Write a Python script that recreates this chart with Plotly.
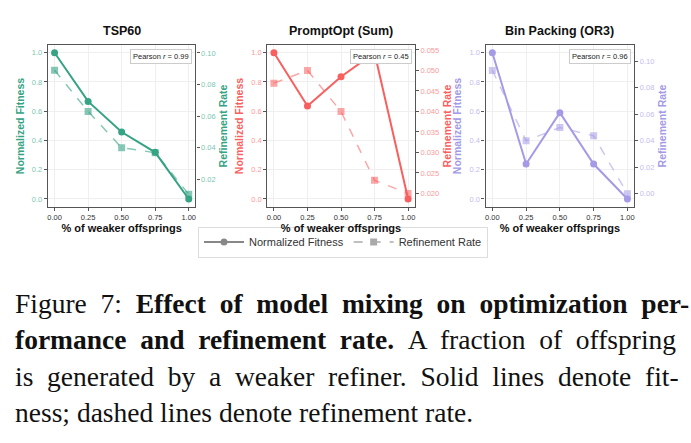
import plotly.graph_objects as go

x_vals = [0.0, 0.25, 0.5, 0.75, 1.0]
panel_titles = ["TSP60", "PromptOpt (Sum)", "Bin Packing (OR3)"]
fitness = [
    [1.0, 0.667, 0.458, 0.319, 0.0],
    [1.0, 0.636, 0.836, 1.0, 0.0],
    [1.0, 0.239, 0.590, 0.239, 0.0],
]
refinement = [
    [0.089, 0.063, 0.040, 0.0369, 0.0105],
    [0.0469, 0.050, 0.040, 0.0232, 0.020],
    [0.0932, 0.040, 0.050, 0.0437, 0.0],
]
pearson = ["0.99", "0.45", "0.96"]
x_ticks = [0.0, 0.25, 0.5, 0.75, 1.0]
left_ticks = [0.0, 0.2, 0.4, 0.6, 0.8, 1.0]
right_ticks = [
    [0.02, 0.04, 0.06, 0.08, 0.10],
    [0.020, 0.025, 0.030, 0.035, 0.040, 0.045, 0.050, 0.055],
    [0.00, 0.02, 0.04, 0.06, 0.08, 0.10],
]
right_fmt = [".2f", ".3f", ".2f"]
right_ranges = [[0.0025, 0.105], [0.0167, 0.0562], [-0.0101, 0.1124]]
main_colors = ["#35a384", "#f95f5f", "#a49ae6"]
light_colors = ["rgba(53,163,132,0.6)", "rgba(249,95,95,0.55)", "rgba(164,154,230,0.55)"]
tick_colors = ["#7ec6b1", "#fb9a9a", "#c3bdef"]

caption_lines = [
    "Figure 7: <b>Effect of model mixing on optimization per-</b>",
    "<b>formance and refinement rate.</b> A fraction of offspring",
    "is generated by a weaker refiner. Solid lines denote fit-",
    "ness; dashed lines denote refinement rate.",
]
caption_justify = [True, True, True, False]

W, H = 691, 443
def px(x):
    return x / W
def py(y):
    return 1 - y / H

x_domains = [[px(47), px(195)], [px(267), px(415)], [px(486), px(635)]]
y_domain = [py(207), py(45)]

fig = go.Figure()
layout = dict(
    width=W, height=H, margin=dict(l=0, r=0, t=0, b=0),
    paper_bgcolor="white", plot_bgcolor="white",
    font=dict(family="Liberation Sans, Arial", color="#222"),
    showlegend=True,
)
annotations = []
for i in range(3):
    n = i + 1
    xa = "x" if n == 1 else f"x{n}"
    ya_l = f"y{2*i+1}" if i > 0 else "y"
    ya_r = f"y{2*i+2}"
    xkey = "xaxis" if n == 1 else f"xaxis{n}"
    ylk = "yaxis" if i == 0 else f"yaxis{2*i+1}"
    yrk = f"yaxis{2*i+2}"
    fig.add_trace(go.Scatter(
        x=x_vals, y=refinement[i], mode="lines+markers", xaxis=xa, yaxis=ya_r,
        line=dict(color=light_colors[i], width=1.5, dash="dash"),
        marker=dict(symbol="square", size=7, color=light_colors[i]),
        showlegend=False,
    ))
    fig.add_trace(go.Scatter(
        x=x_vals, y=fitness[i], mode="lines+markers", xaxis=xa, yaxis=ya_l,
        line=dict(color=main_colors[i], width=2),
        marker=dict(symbol="circle", size=7, color=main_colors[i]),
        showlegend=False,
    ))
    layout[xkey] = dict(
        domain=x_domains[i], anchor=ya_l, range=[-0.05, 1.05],
        tickvals=x_ticks, tickformat=".2f",
        tickfont=dict(size=7.5, color="#333"),
        showgrid=True, gridcolor="#efefef", gridwidth=1,
        showline=True, linecolor="#555", linewidth=1.2, mirror=True,
        ticks="outside", ticklen=3, tickcolor="#555",
        zeroline=False,
        title=dict(text="<b>% of weaker offsprings</b>", font=dict(size=11, color="#111"), standoff=0),
    )
    layout[ylk] = dict(
        domain=y_domain, anchor=xa, range=[-0.055, 1.053],
        tickvals=left_ticks, tickformat=".1f",
        tickfont=dict(size=7.5, color=tick_colors[i]),
        showgrid=True, gridcolor="#efefef", gridwidth=1,
        showline=True, linecolor="#555", linewidth=1.2,
        ticks="outside", ticklen=3, tickcolor="#555",
        zeroline=False,
        title=dict(text="<b>Normalized Fitness</b>", font=dict(size=10.5, color=main_colors[i]), standoff=5),
    )
    layout[yrk] = dict(
        overlaying=ya_l, anchor=xa, side="right", range=right_ranges[i],
        tickvals=right_ticks[i], tickformat=right_fmt[i],
        tickfont=dict(size=7.5, color=tick_colors[i]),
        showgrid=False, showline=True, linecolor="#555", linewidth=1.2,
        ticks="outside", ticklen=3, tickcolor="#555",
        zeroline=False,
        title=dict(text="<b>Refinement Rate</b>", font=dict(size=10.5, color=main_colors[i]), standoff=5),
    )
    annotations.append(dict(
        x=(x_domains[i][0] + x_domains[i][1]) / 2, y=py(31), xref="paper", yref="paper",
        text=f"<b>{panel_titles[i]}</b>", showarrow=False,
        font=dict(size=12.5, color="#111"), xanchor="center", yanchor="middle",
    ))
    annotations.append(dict(
        x=x_domains[i][1] - px(3), y=y_domain[1] - 4 / H, xref="paper", yref="paper",
        text=f"Pearson <i>r</i> = {pearson[i]}", showarrow=False,
        font=dict(size=7.5, color="#222"), xanchor="right", yanchor="top",
        bgcolor="white", bordercolor="#cccccc", borderwidth=1, borderpad=2,
    ))

# legend entries
fig.add_trace(go.Scatter(
    x=[None], y=[None], mode="lines+markers", name="Normalized Fitness",
    line=dict(color="#888888", width=2), marker=dict(symbol="circle", size=7, color="#888888"),
))
fig.add_trace(go.Scatter(
    x=[None], y=[None], mode="lines+markers", name="Refinement Rate",
    line=dict(color="#aaaaaa", width=1.5, dash="dash"), marker=dict(symbol="square", size=7, color="#aaaaaa"),
))

layout["legend"] = dict(
    orientation="h", x=px(343), y=py(242), xanchor="center", yanchor="middle",
    font=dict(size=11, color="#333"), bordercolor="#dddddd", borderwidth=1,
    bgcolor="white", itemwidth=40, tracegroupgap=0,
)

cap_y = [303, 339, 376, 412]
for line, just, yy in zip(caption_lines, caption_justify, cap_y):
    text = line.replace(" ", " \u00a0") if just else line
    annotations.append(dict(
        x=px(12), y=py(yy), xref="paper", yref="paper", text=text, showarrow=False,
        xanchor="left", yanchor="middle",
        font=dict(family="Liberation Serif, Times New Roman, serif", size=27.5, color="#111"),
    ))

layout["annotations"] = annotations
fig.update_layout(**layout)
fig.write_html("out.html")
